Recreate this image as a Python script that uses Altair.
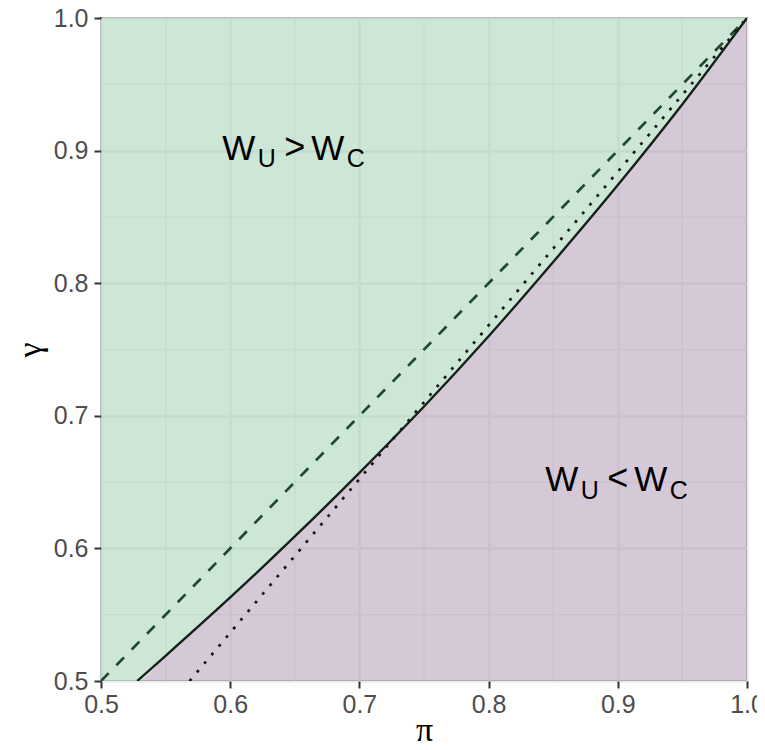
import altair as alt
import pandas as pd

# ---- data ----
curve_pi = [0.528, 0.55, 0.60, 0.65, 0.70, 0.75, 0.80, 0.85, 0.90, 0.95, 1.00]
curve_gamma = [0.500, 0.519, 0.563, 0.609, 0.657, 0.707, 0.760, 0.816, 0.874, 0.935, 1.000]
diag_pi = [0.5, 1.0]
diag_gamma = [0.5, 1.0]
dot_pi = [0.5686, 1.0]
dot_gamma = [0.5, 1.0]
major_ticks = [0.5, 0.6, 0.7, 0.8, 0.9, 1.0]
minor_ticks = [0.55, 0.65, 0.75, 0.85, 0.95]
label_pi = [0.65, 0.90]
label_gamma = [0.90, 0.65]
label_rel = [">", "<"]
lo, hi = 0.5, 1.0

area_df = pd.DataFrame({
    "pi": [lo] + curve_pi,
    "gamma": [lo] + curve_gamma,
    "top": hi,
    "bottom": lo,
})
curve_df = pd.DataFrame({"pi": curve_pi, "gamma": curve_gamma})
diag_df = pd.DataFrame({"pi": diag_pi, "gamma": diag_gamma})
dot_df = pd.DataFrame({"pi": dot_pi, "gamma": dot_gamma})
minor_df = pd.DataFrame({"v": minor_ticks})
label_df = pd.DataFrame({"pi": label_pi, "gamma": label_gamma, "rel": label_rel})

xs = alt.Scale(domain=[lo, hi], nice=False, zero=False)
ys = alt.Scale(domain=[lo, hi], nice=False, zero=False)

common_axis = dict(
    values=major_ticks, format=".1f",
    titleFont="Liberation Serif", titleFontSize=34, titleFontWeight="normal",
    titleColor="black",
    labelFont="Liberation Sans", labelFontSize=25, labelColor="#4d4d4d",
    tickSize=7, tickWidth=2, tickColor="#333333",
    domain=False, grid=True, gridColor="#ebebeb", gridWidth=2.4,
    labelFlush=False, labelOverlap=False,
)
x_axis = alt.Axis(title="π", labelPadding=4, titleBaseline="alphabetic",
                  titleY=59, **common_axis)
y_axis = alt.Axis(title="γ", labelPadding=6, titlePadding=6, **common_axis)


def X(field):
    return alt.X(field, type="quantitative", scale=xs, axis=x_axis)


def Y(field):
    return alt.Y(field, type="quantitative", scale=ys, axis=y_axis)


minor_x = alt.Chart(minor_df).mark_rule(color="#ebebeb", strokeWidth=1.2).encode(x=X("v"))
minor_y = alt.Chart(minor_df).mark_rule(color="#ebebeb", strokeWidth=1.2).encode(y=Y("v"))

green = alt.Chart(area_df).mark_area(
    color="#9BCDAD", opacity=0.5, interpolate="monotone", clip=True
).encode(x=X("pi"), y=Y("gamma"), y2="top")

purple = alt.Chart(area_df).mark_area(
    color="#AB91AF", opacity=0.5, interpolate="monotone", clip=True
).encode(x=X("pi"), y=Y("bottom"), y2="gamma")

solid = alt.Chart(curve_df).mark_line(
    color="#142118", strokeWidth=2.4, interpolate="monotone", clip=True
).encode(x=X("pi"), y=Y("gamma"))

dashed = alt.Chart(diag_df).mark_line(
    color="#1e4a30", strokeWidth=2.7, strokeDash=[11, 11], clip=True
).encode(x=X("pi"), y=Y("gamma"))

dotted = alt.Chart(dot_df).mark_line(
    color="#141414", strokeWidth=2.7, strokeDash=[2.8, 8.5], clip=True
).encode(x=X("pi"), y=Y("gamma"))


def piece(text_expr, dx, dy, size):
    return alt.Chart(label_df).mark_text(
        dx=dx, dy=dy, fontSize=size, align="center", baseline="alphabetic",
        font="Liberation Sans", color="black"
    ).encode(x=X("pi"), y=Y("gamma"), text=text_expr)


t_w1 = piece(alt.value("W"), -56, 9, 35)
t_u = piece(alt.value("U"), -28, 16.7, 25)
t_rel = piece(alt.Text("rel:N"), 0, 8, 36)
t_w2 = piece(alt.value("W"), 33, 9, 35)
t_c = piece(alt.value("C"), 61, 16.7, 25)

chart = alt.layer(
    minor_x, minor_y, green, purple, dashed, dotted, solid,
    t_w1, t_u, t_rel, t_w2, t_c
).properties(
    width=646, height=663,
    padding={"left": 93, "top": 10, "right": 10, "bottom": 61},
    autosize=alt.AutoSizeParams(type="none"),
    background="white",
).configure_view(stroke="#333333", strokeWidth=1.8, fill="white")

chart.save("out.html", embed_options={"renderer": "svg", "actions": False})
